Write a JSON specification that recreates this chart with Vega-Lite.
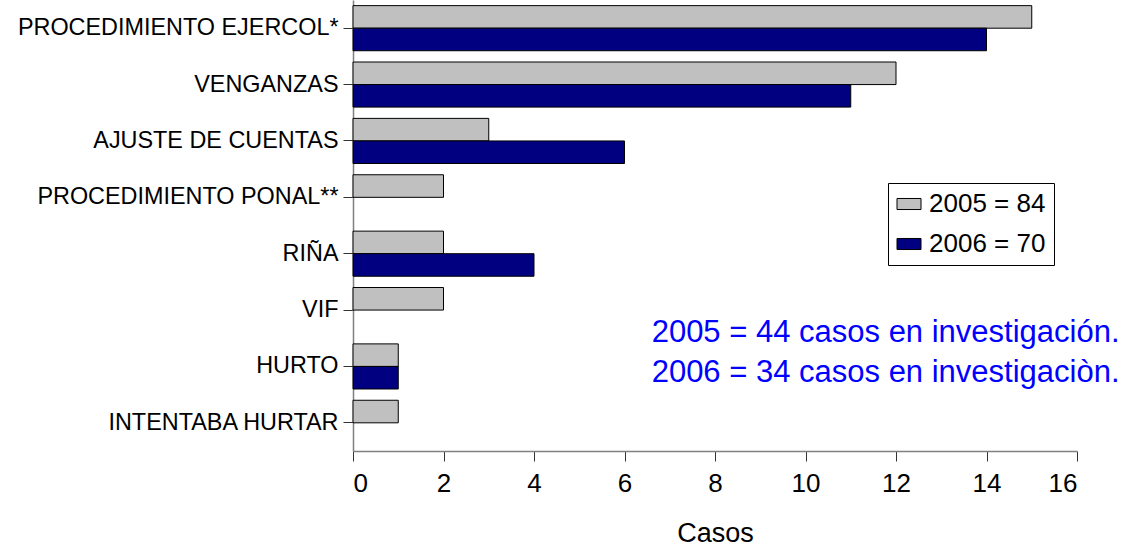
{
  "$schema": "https://vega.github.io/schema/vega-lite/v6.json",
  "autosize": "none",
  "width": 724,
  "height": 451,
  "padding": {"left": 353, "top": 0, "right": 70, "bottom": 97},
  "background": "white",
  "config": {
    "view": {"stroke": null},
    "font": "Liberation Sans"
  },
  "datasets": {
    "casos": [
      {"categoria": "PROCEDIMIENTO EJERCOL*", "serie": "2005 = 84", "casos": 15},
      {"categoria": "PROCEDIMIENTO EJERCOL*", "serie": "2006 = 70", "casos": 14},
      {"categoria": "VENGANZAS", "serie": "2005 = 84", "casos": 12},
      {"categoria": "VENGANZAS", "serie": "2006 = 70", "casos": 11},
      {"categoria": "AJUSTE DE CUENTAS", "serie": "2005 = 84", "casos": 3},
      {"categoria": "AJUSTE DE CUENTAS", "serie": "2006 = 70", "casos": 6},
      {"categoria": "PROCEDIMIENTO PONAL**", "serie": "2005 = 84", "casos": 2},
      {"categoria": "PROCEDIMIENTO PONAL**", "serie": "2006 = 70", "casos": 0},
      {"categoria": "RIÑA", "serie": "2005 = 84", "casos": 2},
      {"categoria": "RIÑA", "serie": "2006 = 70", "casos": 4},
      {"categoria": "VIF", "serie": "2005 = 84", "casos": 2},
      {"categoria": "VIF", "serie": "2006 = 70", "casos": 0},
      {"categoria": "HURTO", "serie": "2005 = 84", "casos": 1},
      {"categoria": "HURTO", "serie": "2006 = 70", "casos": 1},
      {"categoria": "INTENTABA HURTAR", "serie": "2005 = 84", "casos": 1},
      {"categoria": "INTENTABA HURTAR", "serie": "2006 = 70", "casos": 0}
    ],
    "nota": [
      {"categoria": "HURTO", "x": 6.6, "texto": ["2005 = 44 casos en investigación.", "2006 = 34 casos en investigaciòn."]}
    ]
  },
  "layer": [
    {
      "data": {"name": "casos"},
      "transform": [{"filter": "datum.casos > 0"}],
      "mark": {"type": "bar", "stroke": "black", "strokeWidth": 1},
      "encoding": {
        "y": {
          "field": "categoria",
          "type": "nominal",
          "sort": ["PROCEDIMIENTO EJERCOL*", "VENGANZAS", "AJUSTE DE CUENTAS", "PROCEDIMIENTO PONAL**", "RIÑA", "VIF", "HURTO", "INTENTABA HURTAR"],
          "scale": {
            "domain": ["PROCEDIMIENTO EJERCOL*", "VENGANZAS", "AJUSTE DE CUENTAS", "PROCEDIMIENTO PONAL**", "RIÑA", "VIF", "HURTO", "INTENTABA HURTAR"],
            "paddingInner": 0.2,
            "paddingOuter": 0.1
          },
          "axis": {
            "title": null,
            "domainColor": "#808080",
            "domainWidth": 1.5,
            "tickColor": "#333333",
            "tickSize": 10,
            "labelPadding": 5,
            "labelFont": "Liberation Sans",
            "labelFontSize": 23.4,
            "labelColor": "black",
            "labelLimit": 400
          }
        },
        "yOffset": {
          "field": "serie",
          "type": "nominal",
          "sort": ["2005 = 84", "2006 = 70"],
          "scale": {"paddingInner": 0, "paddingOuter": 0}
        },
        "x": {
          "field": "casos",
          "type": "quantitative",
          "scale": {"domain": [0, 16], "nice": false},
          "axis": {
            "title": "Casos",
            "values": [0, 2, 4, 6, 8, 10, 12, 14, 16],
            "grid": false,
            "domainColor": "#808080",
            "domainWidth": 1.5,
            "tickColor": "#333333",
            "tickSize": 10,
            "labelFontSize": 26,
            "labelColor": "black",
            "labelPadding": 9,
            "titleFontSize": 27,
            "titleFontWeight": "normal",
            "titleColor": "black",
            "titlePadding": 24
          }
        },
        "color": {
          "field": "serie",
          "type": "nominal",
          "scale": {"domain": ["2005 = 84", "2006 = 70"], "range": ["#C0C0C0", "#000080"]},
          "legend": {
            "title": null,
            "orient": "none",
            "legendX": 535,
            "legendY": 183,
            "padding": 8,
            "strokeColor": "black",
            "fillColor": "white",
            "symbolType": "M-1,-0.46H1V0.46H-1Z",
            "symbolSize": 576,
            "symbolStrokeColor": "black",
            "symbolStrokeWidth": 1,
            "symbolOpacity": 1,
            "labelFontSize": 26,
            "labelColor": "black",
            "labelOffset": 7,
            "rowPadding": 14
          }
        }
      }
    },
    {
      "data": {"name": "nota"},
      "mark": {"type": "text", "align": "left", "baseline": "middle", "fontSize": 31, "color": "#0000FF", "lineHeight": 40, "dy": -33},
      "encoding": {
        "y": {"field": "categoria", "type": "nominal"},
        "x": {"field": "x", "type": "quantitative"},
        "text": {"field": "texto"}
      }
    }
  ]
}
